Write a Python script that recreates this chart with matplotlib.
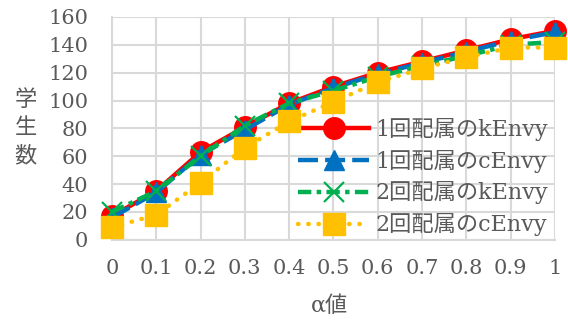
import matplotlib
matplotlib.use('Agg')
import matplotlib.pyplot as plt

# データ
alpha = [0, 0.1, 0.2, 0.3, 0.4, 0.5, 0.6, 0.7, 0.8, 0.9, 1]
x_labels = ['0', '0.1', '0.2', '0.3', '0.4', '0.5', '0.6', '0.7', '0.8', '0.9', '1']
k1 = [17, 35, 63, 81, 98, 110, 120, 128, 136, 144, 150]
c1 = [16, 34, 61, 79, 97, 109, 119, 127, 135, 143, 149]
k2 = [20, 35, 60, 82, 98, 107, 117, 125, 132, 140, 142]
c2 = [9, 18, 41, 66, 85, 99, 113, 123, 131, 138, 138]
names = ['1回配属のkEnvy', '1回配属のcEnvy', '2回配属のkEnvy', '2回配属のcEnvy']
y_ticks = [0, 20, 40, 60, 80, 100, 120, 140, 160]

fonts = ['DejaVu Serif', 'Noto Sans CJK JP']
plt.rcParams['font.family'] = fonts
gray = '#595959'
gridc = '#D9D9D9'

fig = plt.figure(figsize=(5.68, 3.25), dpi=100)
ax = fig.add_axes([0.197, 0.262, 0.780, 0.686])

lw = 3.2
ax.plot(alpha, k1, color='#FF0000', lw=lw, marker='o', ms=15.5, label=names[0],
        clip_on=False, zorder=3)
ax.plot(alpha, c1, color='#0070C0', lw=lw, marker='^', ms=15, label=names[1],
        dashes=(4.5, 1.6), clip_on=False, zorder=4)
ax.plot(alpha, k2, color='#00B050', lw=lw, marker='x', ms=14, mew=1.6, label=names[2],
        dashes=(3, 1.2, 1, 1.2), clip_on=False, zorder=5)
ax.plot(alpha, c2, color='#FFC000', lw=lw, marker='s', ms=16, label=names[3],
        dashes=(0.1, 2.2), dash_capstyle='round', clip_on=False, zorder=6)

ax.set_xlim(0, 1)
ax.set_ylim(0, 160)
ax.set_xticks(alpha)
ax.set_xticklabels(x_labels)
ax.set_yticks(y_ticks)
ax.grid(True, color=gridc, lw=1.5)
ax.set_axisbelow(True)
for s in ['top', 'right']:
    ax.spines[s].set_visible(False)
for s in ['left', 'bottom']:
    ax.spines[s].set_color(gridc)
    ax.spines[s].set_linewidth(1.5)
ax.tick_params(length=0, labelsize=15, colors=gray)
ax.tick_params(axis='x', pad=14)
ax.tick_params(axis='y', pad=17)

fig.text(0.045, 0.605, '学\n生\n数', fontsize=16, color=gray, ha='center', va='center',
         linespacing=1.35)
fig.text(0.58, 0.058, 'α値', fontsize=16, color=gray, ha='center', va='center')

leg = ax.legend(loc='upper left', bbox_to_anchor=(0.505, 0.672), bbox_transform=fig.transFigure,
                frameon=False, fontsize=16, handlelength=3.2, labelspacing=0.4,
                handletextpad=0.3, borderpad=0)
for t in leg.get_texts():
    t.set_color(gray)

fig.savefig('out.png', dpi=100)
